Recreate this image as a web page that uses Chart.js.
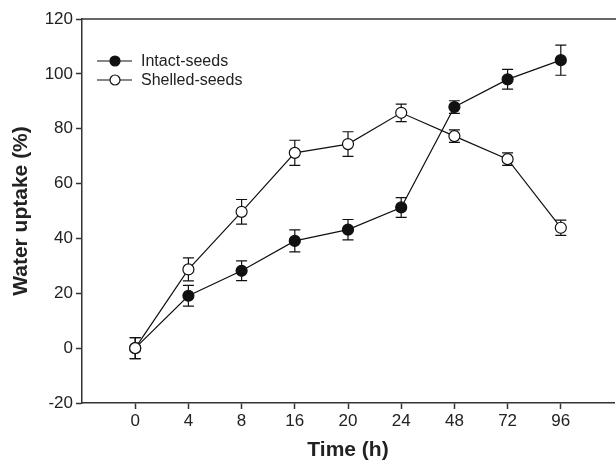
<!DOCTYPE html>
<html>
<head>
<meta charset="utf-8">
<script src="https://cdn.jsdelivr.net/npm/chart.js@4/dist/chart.umd.min.js"></script>
<style>
  html, body { margin: 0; padding: 0; background: #fff; }
  #wrap { width: 616px; height: 460px; }
</style>
</head>
<body>
<div id="wrap"><canvas id="line-chart"></canvas></div>
<script>
// time points (h)
var timeLabels = ['0', '4', '8', '16', '20', '24', '48', '72', '96'];
// water uptake (%)
var intactSeeds = [0, 19.1, 28.2, 39.1, 43.2, 51.3, 87.9, 98.0, 105.0];
var intactErr   = [3.8, 3.8, 3.6, 4.0, 3.7, 3.6, 2.3, 3.6, 5.5];
var shelledSeeds = [0, 28.7, 49.7, 71.2, 74.4, 85.8, 77.3, 68.9, 43.9];
var shelledErr   = [3.8, 4.2, 4.5, 4.6, 4.5, 3.2, 2.3, 2.3, 2.8];
var yTicks = [-20, 0, 20, 40, 60, 80, 100, 120];

var axisColor = '#333';
var font = 'Liberation Sans, Arial, sans-serif';

function points(vals) {
  return vals.map(function (v, i) { return { x: timeLabels[i], y: v }; });
}

// draws the vertical error bars with caps, the top frame line and the legend
var errorBars = {
  id: 'errorBars',
  beforeDatasetsDraw: function (chart) {
    var ctx = chart.ctx, x = chart.scales.x, y = chart.scales.y;
    ctx.save();
    ctx.strokeStyle = '#111';
    ctx.lineWidth = 1.2;
    chart.data.datasets.forEach(function (ds) {
      ds.data.forEach(function (p, i) {
        var px = x.getPixelForValue(timeLabels.indexOf(p.x) + 1);
        var top = y.getPixelForValue(p.y + ds.err[i]);
        var bot = y.getPixelForValue(p.y - ds.err[i]);
        ctx.beginPath();
        ctx.moveTo(px, top); ctx.lineTo(px, bot);
        ctx.moveTo(px - 5.5, top); ctx.lineTo(px + 5.5, top);
        ctx.moveTo(px - 5.5, bot); ctx.lineTo(px + 5.5, bot);
        ctx.stroke();
      });
    });
    ctx.restore();
  },
  afterDraw: function (chart) {
    var ctx = chart.ctx, a = chart.chartArea;
    ctx.save();
    ctx.strokeStyle = axisColor;
    ctx.lineWidth = 1.5;
    ctx.beginPath();
    ctx.moveTo(a.left, a.top);
    ctx.lineTo(chart.width, a.top);
    ctx.stroke();
    ctx.font = '16px ' + font;
    ctx.textBaseline = 'middle';
    chart.data.datasets.slice().reverse().forEach(function (ds, k) {
      var yy = 61 + k * 19;
      ctx.strokeStyle = '#111';
      ctx.lineWidth = 1.2;
      ctx.beginPath();
      ctx.moveTo(97, yy); ctx.lineTo(132, yy);
      ctx.stroke();
      ctx.beginPath();
      ctx.arc(115, yy, 5, 0, Math.PI * 2);
      ctx.fillStyle = ds.pointBackgroundColor;
      ctx.fill();
      ctx.stroke();
      ctx.fillStyle = '#222';
      ctx.fillText(ds.label, 141, yy + 1);
    });
    ctx.restore();
  }
};

new Chart(document.getElementById('line-chart'), {
  type: 'line',
  data: {
    labels: [''].concat(timeLabels, ['']),
    datasets: [{
        label: 'Shelled-seeds',
        data: points(shelledSeeds),
        err: shelledErr,
        borderColor: '#111',
        borderWidth: 1.2,
        pointRadius: 5.5,
        pointBorderWidth: 1.2,
        pointBackgroundColor: '#fff',
        pointBorderColor: '#111',
        fill: false,
        order: 0
      }, {
        label: 'Intact-seeds',
        data: points(intactSeeds),
        err: intactErr,
        borderColor: '#111',
        borderWidth: 1.2,
        pointRadius: 5.5,
        pointBorderWidth: 1.2,
        pointBackgroundColor: '#111',
        pointBorderColor: '#111',
        fill: false,
        order: 1
      }
    ]
  },
  plugins: [errorBars],
  options: {
    responsive: true,
    maintainAspectRatio: false,
    animation: false,
    layout: { autoPadding: false, padding: { top: 19, right: 0, left: 0, bottom: 0 } },
    plugins: {
      legend: { display: false },
      tooltip: { enabled: false }
    },
    scales: {
      x: {
        type: 'category',
        offset: false,
        grid: {
          drawOnChartArea: false,
          tickLength: 6,
          tickWidth: 1.5,
          tickColor: function (c) {
            return (c.index === 0 || c.index === timeLabels.length + 1) ? 'rgba(0,0,0,0)' : axisColor;
          }
        },
        border: { color: axisColor, width: 1.5 },
        ticks: { color: '#222', font: { family: font, size: 17 }, padding: 2, maxRotation: 0, autoSkip: false },
        title: { display: true, text: 'Time (h)', color: '#222', font: { family: font, size: 21, weight: 'bold' }, padding: { top: 0, bottom: -3 } },
        afterFit: function (s) { s.height = 57; }
      },
      y: {
        min: -20,
        max: 120,
        afterBuildTicks: function (s) { s.ticks = yTicks.map(function (v) { return { value: v }; }); },
        grid: { drawOnChartArea: false, tickLength: 6, tickWidth: 1.5, tickColor: axisColor },
        border: { color: axisColor, width: 1.5 },
        ticks: { color: '#222', font: { family: font, size: 17 }, padding: 3 },
        title: { display: true, text: 'Water uptake (%)', color: '#222', font: { family: font, size: 21, weight: 'bold' }, padding: { top: 9, bottom: 0 } },
        afterFit: function (s) { s.width = 82; }
      }
    }
  }
});
</script>
</body>
</html>
